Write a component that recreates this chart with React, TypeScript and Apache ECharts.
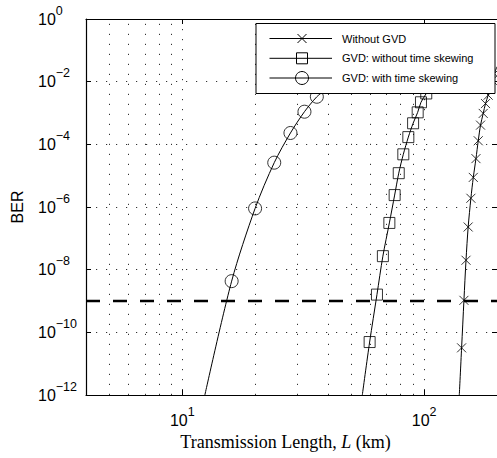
import React, { useEffect, useRef } from "react";
import * as echarts from "echarts";

// ---- data ----
const xRange = [4, 200];
const yRange = [1e-12, 1];
const berThreshold = 1e-9;

// "Without GVD" (crosses)
const crossMarkX = [142.8, 146, 148.9, 152, 156, 159.6, 163.7, 167.3, 171, 175.4, 179.3, 183.9, 187.6, 191.3, 195];
const crossMarkY = [3.2e-11, 1.05e-9, 2e-8, 2.3e-7, 1.9e-6, 8.8e-6, 3.5e-5, 1.3e-4, 4.1e-4, 9.7e-4, 2e-3, 3.7e-3, 6.5e-3, 1.1e-2, 1.8e-2];
const crossLineX = [139.7, ...crossMarkX, 200];
const crossLineY = [1e-12, ...crossMarkY, 3e-2];

// "GVD: without time skewing" (squares)
const squareMarkX = [59.5, 63.8, 67.5, 71.8, 75.5, 78.5, 82, 86, 90, 94, 97, 102];
const squareMarkY = [4.9e-11, 1.6e-9, 2.7e-8, 3.1e-7, 2.4e-6, 1.2e-5, 4.8e-5, 1.7e-4, 4.7e-4, 1.05e-3, 2.2e-3, 4.2e-3];
const squareLineX = [55.5, ...squareMarkX, 106];
const squareLineY = [1e-12, ...squareMarkY, 7e-3];

// "GVD: with time skewing" (circles)
const circleMarkX = [16, 20, 24, 28, 32, 36];
const circleMarkY = [4.3e-9, 9e-7, 2.6e-5, 2.3e-4, 1.1e-3, 3.3e-3];
const circleLineX = [12.4, ...circleMarkX, 38.5];
const circleLineY = [1e-12, ...circleMarkY, 5e-3];

const minorGridX = [5, 6, 7, 8, 9, 20, 30, 40, 50, 60, 70, 80, 90];

const legendNames = ["Without GVD", "GVD: without time skewing", "GVD: with time skewing"];

const zip = (xs: number[], ys: number[]) => xs.map((x, i) => [x, ys[i]]);

const FONT = "Liberation Sans";
const crossPath = "path://M0 0L10 10M10 0L0 10";

const isPow10 = (v: number) => {
  const e = Math.log10(v);
  return Math.abs(e - Math.round(e)) < 1e-6;
};
const supLabel = (v: number) => {
  if (!isPow10(v)) return "";
  const e = Math.round(Math.log10(v));
  const s = e < 0 ? "\u2212" + -e : String(e);
  return `{b|10}{s|${s}}`;
};
const labelRich = {
  b: { fontFamily: FONT, fontSize: 16, color: "#000", lineHeight: 30 },
  s: { fontFamily: FONT, fontSize: 12.5, color: "#000", lineHeight: 12, verticalAlign: "top" },
};

const dotted = { color: "#333", width: 1, type: [1.2, 8.8] as number[] };
const markerStyle = { color: "rgba(0,0,0,0)", borderColor: "#000", borderWidth: 1 };

export default function App() {
  const ref = useRef<HTMLDivElement>(null);
  useEffect(() => {
    document.body.style.margin = "0";
    if (!ref.current) return;
    const chart = echarts.init(ref.current, undefined, { renderer: "svg" });

    const rowY = [38.5, 58.3, 78];
    const legendGraphics: any[] = [
      {
        type: "rect",
        shape: { x: 256, y: 23.5, width: 239, height: 70 },
        style: { fill: "#fff", stroke: "#000", lineWidth: 1 },
        z: 100,
      },
    ];
    legendNames.forEach((name, i) => {
      const y = rowY[i];
      legendGraphics.push({
        type: "line",
        shape: { x1: 269.5, y1: y, x2: 332, y2: y },
        style: { stroke: "#000", lineWidth: 1 },
        z: 101,
      });
      if (i === 0) {
        legendGraphics.push(
          { type: "line", shape: { x1: 297.5, y1: y - 4.5, x2: 306.5, y2: y + 4.5 }, style: { stroke: "#000", lineWidth: 1 }, z: 102 },
          { type: "line", shape: { x1: 297.5, y1: y + 4.5, x2: 306.5, y2: y - 4.5 }, style: { stroke: "#000", lineWidth: 1 }, z: 102 }
        );
      } else if (i === 1) {
        legendGraphics.push({
          type: "rect",
          shape: { x: 296.5, y: y - 5.5, width: 11, height: 11 },
          style: { fill: "none", stroke: "#000", lineWidth: 1 },
          z: 102,
        });
      } else {
        legendGraphics.push({
          type: "circle",
          shape: { cx: 302, cy: y, r: 6.5 },
          style: { fill: "none", stroke: "#000", lineWidth: 1 },
          z: 102,
        });
      }
      legendGraphics.push({
        type: "text",
        x: 342,
        y: y,
        style: { text: name, fontFamily: FONT, fontSize: 11, fill: "#000", align: "left", verticalAlign: "middle" },
        z: 102,
      });
    });

    const axisCommonX = {
      type: "log",
      logBase: 10,
      min: xRange[0],
      max: xRange[1],
      axisLine: { show: true, onZero: false, lineStyle: { color: "#000", width: 1.2 } },
      axisTick: { show: true, inside: true, length: 5, lineStyle: { color: "#000" } },
      minorTick: { show: false },
    };
    const axisCommonY = {
      type: "log",
      logBase: 10,
      min: yRange[0],
      max: yRange[1],
      interval: 2,
      axisLine: { show: true, onZero: false, lineStyle: { color: "#000", width: 1.2 } },
      axisTick: { show: true, inside: true, length: 5, lineStyle: { color: "#000" } },
    };

    chart.setOption({
      animation: false,
      backgroundColor: "#fff",
      grid: { left: 86, top: 19, right: -2, bottom: 63, containLabel: false },
      xAxis: [
        {
          ...axisCommonX,
          position: "bottom",
          axisLabel: {
            show: true,
            margin: 10,
            showMinLabel: false,
            showMaxLabel: false,
            formatter: (v: number) => supLabel(v),
            rich: labelRich,
          },
          splitLine: { show: true, lineStyle: dotted },
        },
        {
          ...axisCommonX,
          position: "top",
          axisLabel: { show: false },
          splitLine: { show: false },
        },
      ],
      yAxis: [
        {
          ...axisCommonY,
          position: "left",
          axisLabel: {
            show: true,
            margin: 48,
            align: "left",
            formatter: (v: number) => supLabel(v),
            rich: labelRich,
          },
          splitLine: { show: true, lineStyle: dotted },
        },
        {
          ...axisCommonY,
          position: "right",
          axisLine: { show: false },
          axisLabel: { show: false },
          splitLine: { show: false },
        },
      ],
      graphic: [
        {
          type: "text",
          x: 17,
          y: 207,
          rotation: Math.PI / 2,
          style: { text: "BER", fontFamily: FONT, fontSize: 16, fill: "#000", align: "center", verticalAlign: "middle" },
        },
        {
          type: "text",
          x: 285.5,
          y: 442,
          style: {
            text: "{a|Transmission Length, }{i|L}{a| (km)}",
            align: "center",
            verticalAlign: "middle",
            rich: {
              a: { fontFamily: "Liberation Serif", fontSize: 18, fill: "#000", color: "#000" },
              i: { fontFamily: "Liberation Serif", fontSize: 18, fontStyle: "italic", fill: "#000", color: "#000" },
            },
          },
        },
        ...legendGraphics,
      ],
      series: [
        {
          name: "minor-grid",
          type: "line",
          data: [],
          silent: true,
          markLine: {
            silent: true,
            symbol: "none",
            label: { show: false },
            lineStyle: dotted,
            data: minorGridX.map((v) => ({ xAxis: v })),
          },
        },
        {
          name: "threshold",
          type: "line",
          data: [
            [xRange[0], berThreshold],
            [xRange[1], berThreshold],
          ],
          symbol: "none",
          lineStyle: { color: "#000", width: 2.5, type: [14, 13] },
          z: 3,
        },
        {
          name: legendNames[0] + " line",
          type: "line",
          data: zip(crossLineX, crossLineY),
          symbol: "none",
          smooth: 0.3,
          lineStyle: { color: "#000", width: 1 },
          z: 4,
        },
        {
          name: legendNames[1] + " line",
          type: "line",
          data: zip(squareLineX, squareLineY),
          symbol: "none",
          smooth: 0.3,
          lineStyle: { color: "#000", width: 1 },
          z: 4,
        },
        {
          name: legendNames[2] + " line",
          type: "line",
          data: zip(circleLineX, circleLineY),
          symbol: "none",
          smooth: 0.3,
          lineStyle: { color: "#000", width: 1 },
          z: 4,
        },
        {
          name: legendNames[0],
          type: "scatter",
          data: zip(crossMarkX, crossMarkY),
          symbol: crossPath,
          symbolSize: 9,
          itemStyle: markerStyle,
          z: 5,
        },
        {
          name: legendNames[1],
          type: "scatter",
          data: zip(squareMarkX, squareMarkY),
          symbol: "rect",
          symbolSize: 11,
          itemStyle: markerStyle,
          z: 5,
        },
        {
          name: legendNames[2],
          type: "scatter",
          data: zip(circleMarkX, circleMarkY),
          symbol: "circle",
          symbolSize: 13,
          itemStyle: markerStyle,
          z: 5,
        },
      ],
    });
    return () => chart.dispose();
  }, []);
  return <div ref={ref} style={{ width: 497, height: 458 }} />;
}
